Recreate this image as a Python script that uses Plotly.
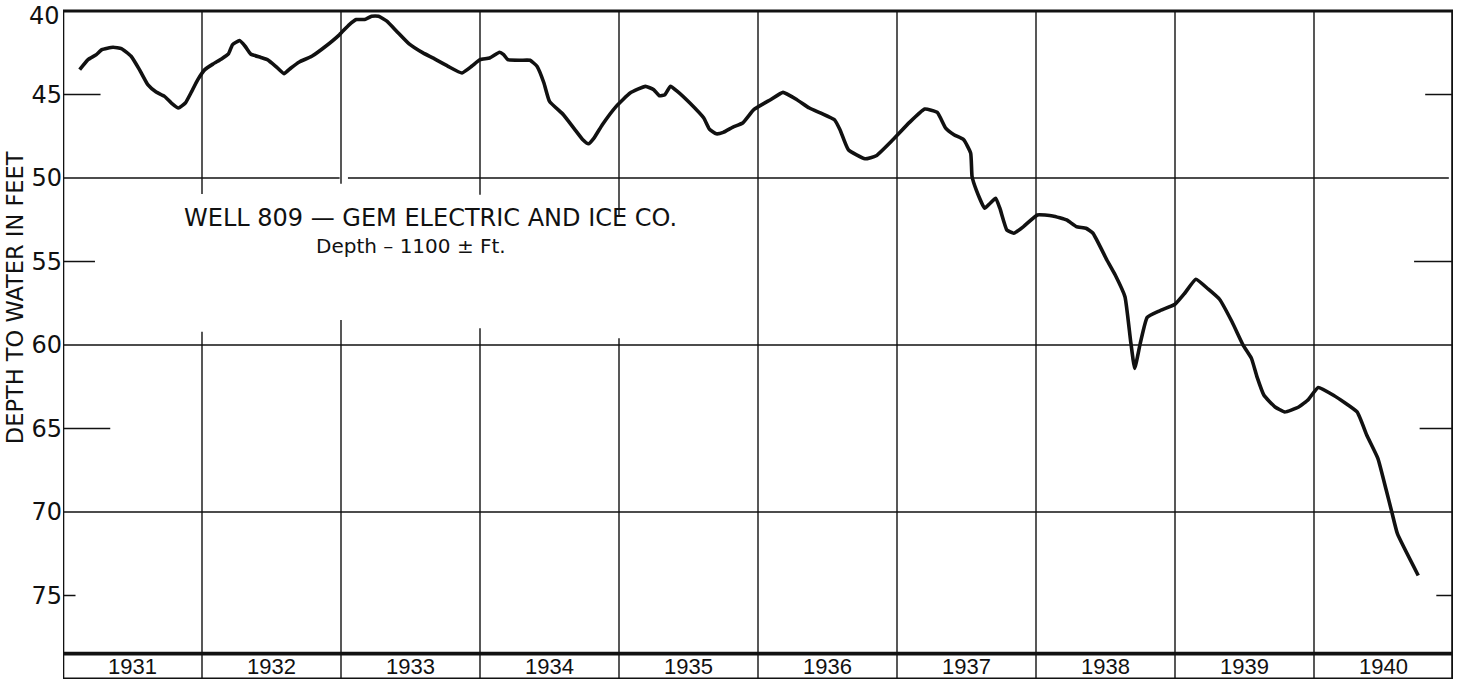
import plotly.graph_objects as go

# Hydrograph: depth to water below land surface, Well 809
years = [
    1931.12, 1931.18, 1931.24, 1931.28, 1931.36, 1931.42, 1931.49, 1931.55, 1931.61, 1931.67,
    1931.73, 1931.78, 1931.83, 1931.88, 1931.92, 1931.97, 1932.02, 1932.08, 1932.14, 1932.19,
    1932.22, 1932.27, 1932.31, 1932.35, 1932.42, 1932.47, 1932.53, 1932.59, 1932.64, 1932.70,
    1932.79, 1932.89, 1932.99, 1933.06, 1933.11, 1933.17, 1933.22, 1933.27, 1933.33, 1933.40,
    1933.49, 1933.59, 1933.66, 1933.77, 1933.87, 1933.94, 1934.00, 1934.07, 1934.14, 1934.17,
    1934.20, 1934.29, 1934.36, 1934.41, 1934.46, 1934.50, 1934.60, 1934.68, 1934.74, 1934.78,
    1934.82, 1934.88, 1934.98, 1935.08, 1935.19, 1935.25, 1935.29, 1935.33, 1935.37, 1935.42,
    1935.51, 1935.61, 1935.65, 1935.70, 1935.75, 1935.82, 1935.89, 1935.97, 1936.09, 1936.18,
    1936.28, 1936.37, 1936.55, 1936.59, 1936.65, 1936.77, 1936.85, 1936.97, 1937.09, 1937.20,
    1937.29, 1937.35, 1937.41, 1937.48, 1937.53, 1937.54, 1937.57, 1937.63, 1937.67, 1937.71,
    1937.74, 1937.79, 1937.84, 1937.91, 1938.01, 1938.12, 1938.22, 1938.29, 1938.36, 1938.41,
    1938.51, 1938.57, 1938.64, 1938.68, 1938.71, 1938.75, 1938.80, 1938.89, 1939.00, 1939.07,
    1939.15, 1939.24, 1939.32, 1939.41, 1939.49, 1939.55, 1939.59, 1939.64, 1939.72, 1939.79,
    1939.89, 1939.96, 1940.03, 1940.14, 1940.31, 1940.38, 1940.46, 1940.52, 1940.56, 1940.60,
    1940.75,
]
depth_ft = [
    43.51, 42.91, 42.61, 42.31, 42.17, 42.25, 42.71, 43.51, 44.41, 44.85,
    45.11, 45.51, 45.81, 45.51, 44.91, 44.11, 43.51, 43.17, 42.87, 42.57,
    42.01, 41.77, 42.11, 42.57, 42.77, 42.91, 43.31, 43.75, 43.41, 43.05,
    42.71, 42.11, 41.41, 40.81, 40.51, 40.51, 40.31, 40.31, 40.61, 41.21,
    41.97, 42.51, 42.81, 43.31, 43.71, 43.31, 42.91, 42.81, 42.47, 42.61,
    42.91, 42.95, 42.95, 43.31, 44.31, 45.41, 46.21, 47.07, 47.71, 47.95,
    47.61, 46.81, 45.71, 44.91, 44.51, 44.71, 45.07, 45.01, 44.51, 44.81,
    45.51, 46.41, 47.07, 47.35, 47.27, 46.95, 46.71, 45.91, 45.31, 44.87,
    45.31, 45.81, 46.51, 47.11, 48.31, 48.85, 48.67, 47.71, 46.67, 45.87,
    46.07, 47.01, 47.41, 47.71, 48.51, 49.91, 50.71, 51.81, 51.51, 51.21,
    51.81, 53.11, 53.31, 52.91, 52.21, 52.27, 52.51, 52.91, 53.01, 53.31,
    54.91, 55.81, 57.11, 59.71, 61.40, 59.90, 58.34, 57.95, 57.56, 56.90,
    56.06, 56.66, 57.26, 58.61, 60.01, 60.80, 61.91, 63.01, 63.71, 64.01,
    63.71, 63.26, 62.54, 63.01, 64.01, 65.41, 66.80, 68.70, 70.01, 71.30,
    73.80,
]

year_labels = ["1931", "1932", "1933", "1934", "1935", "1936", "1937", "1938", "1939", "1940"]
depth_ticks = [40, 45, 50, 55, 60, 65, 70, 75]
major_depths = [50, 60, 70]
minor_depths = [45, 55, 65, 75]

title_text = "WELL 809 \u2014 GEM ELECTRIC AND ICE CO."
subtitle_text = "Depth \u2013 1100 \u00b1 Ft."
y_title = "DEPTH TO WATER IN FEET"

INK = "#111111"
FONT = "DejaVu Sans"
YEAR_FONT = "Liberation Sans"
TICK_SIZE = 24
X0, X1 = 1931, 1941
Y_TOP, Y_BOTTOM = 40, 80.0
Y_VIEW_TOP = 39.52        # a little headroom above the 40 ft rule
BAND_TOP = 78.48          # heavy rule above the year row
YEAR_ROW = 79.26          # centre of year row

fig = go.Figure()
fig.add_trace(go.Scatter(
    x=years, y=depth_ft, mode="lines",
    line=dict(color=INK, width=3.6, shape="spline", smoothing=0.4),
    hoverinfo="skip", showlegend=False,
))

shapes = []

def seg(x0, y0, x1, y1, w):
    shapes.append(dict(type="line", xref="x", yref="y", x0=x0, y0=y0, x1=x1, y1=y1,
                       line=dict(color=INK, width=w), layer="below"))

# year divisions; the first four break around the caption
caption_gaps = {1932: (50.95, 59.2), 1933: (50.35, 58.5), 1934: (51.0, 59.0), 1935: (52.3, 59.6)}
for yr in range(1932, 1941):
    if yr in caption_gaps:
        g0, g1 = caption_gaps[yr]
        seg(yr, Y_TOP, yr, g0, 1.4)
        seg(yr, g1, yr, Y_BOTTOM, 1.4)
    else:
        seg(yr, Y_TOP, yr, Y_BOTTOM, 1.4)

# full-width rules at every 10 ft
for d in major_depths:
    if d == 50:
        seg(X0, d, 1932.99, d, 1.5)
        seg(1933.05, d, 1940.97, d, 1.5)
    else:
        seg(X0, d, X1, d, 1.5)

# short marks at the 5 ft steps, on both sides
left_len = {45: 0.27, 55: 0.23, 65: 0.34, 75: 0.09}
right_len = {45: 0.20, 55: 0.28, 65: 0.24, 75: 0.12}
for d in minor_depths:
    seg(X0, d, X0 + left_len[d], d, 1.5)
    seg(X1 - right_len[d], d, X1, d, 1.5)

# frame
seg(X0, Y_TOP, X1, Y_TOP, 3)
seg(X0, Y_TOP, X0, Y_BOTTOM, 2.6)
seg(X1, Y_TOP, X1, Y_BOTTOM, 3.6)
seg(X0, Y_BOTTOM, X1, Y_BOTTOM, 3)
seg(X0, BAND_TOP, X1, BAND_TOP, 3.8)

annotations = []
for i, lab in enumerate(year_labels):
    annotations.append(dict(x=X0 + i + 0.5, y=YEAR_ROW, xref="x", yref="y", text=lab,
                            showarrow=False, font=dict(family=YEAR_FONT, size=22, color=INK),
                            xanchor="center", yanchor="middle"))

# the top depth label sits on the frame edge, so it hangs just below the page top
annotations.append(dict(x=0, y=depth_ticks[0], xref="paper", yref="y", text=str(depth_ticks[0]),
                        showarrow=False, xanchor="right", yanchor="top", xshift=-1, yshift=11,
                        font=dict(family=FONT, size=TICK_SIZE, color=INK)))

annotations.append(dict(x=1931.856, y=52.4, xref="x", yref="y", text=title_text,
                        showarrow=False, xanchor="left", yanchor="middle",
                        font=dict(family=FONT, size=24, color=INK)))
annotations.append(dict(x=1933.50, y=54.05, xref="x", yref="y", text=subtitle_text,
                        showarrow=False, xanchor="center", yanchor="middle",
                        font=dict(family=FONT, size=20, color=INK)))
annotations.append(dict(x=-0.034, y=57.15, xref="paper", yref="y", text=y_title,
                        showarrow=False, textangle=-90, xanchor="center", yanchor="middle",
                        font=dict(family=FONT, size=22.5, color=INK)))

axis_ticks = depth_ticks[1:]
fig.update_layout(
    width=1460, height=688,
    margin=dict(l=63, r=7, t=3, b=9),
    paper_bgcolor="white", plot_bgcolor="white",
    shapes=shapes, annotations=annotations,
    xaxis=dict(range=[X0, X1], visible=False, showgrid=False, zeroline=False),
    yaxis=dict(range=[Y_BOTTOM, Y_VIEW_TOP], tickvals=axis_ticks,
               ticktext=[str(v) for v in axis_ticks], showgrid=False, zeroline=False,
               showline=False, ticks="", ticklabelstandoff=0,
               tickfont=dict(family=FONT, size=TICK_SIZE, color=INK)),
    font=dict(family=FONT, color=INK),
)

fig.write_html("out.html")
